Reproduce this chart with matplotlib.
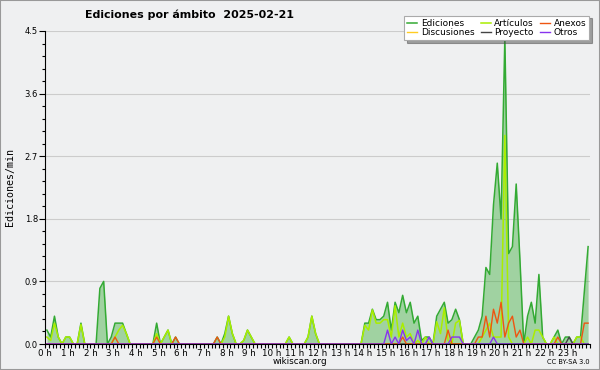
import numpy as np
import matplotlib
matplotlib.use('Agg')
import matplotlib.pyplot as plt
from matplotlib.patches import Rectangle
from matplotlib.ticker import MultipleLocator

# edits per minute, one value per 10-minute slot (144 slots)
ediciones = [
    0.2, 0.1, 0.4, 0.1, 0, 0.1, 0.1, 0, 0, 0.3, 0, 0,            # 0-1 h
    0, 0, 0.8, 0.9, 0, 0.1, 0.3, 0.3, 0.3, 0.15, 0, 0,           # 2-3 h
    0, 0, 0, 0, 0, 0.3, 0, 0.1, 0.2, 0, 0.1, 0,                  # 4-5 h
    0, 0, 0, 0, 0, 0, 0, 0, 0, 0.1, 0, 0.15,                     # 6-7 h
    0.4, 0.15, 0, 0, 0.05, 0.2, 0.1, 0, 0, 0, 0, 0,              # 8-9 h
    0, 0, 0, 0, 0.1, 0, 0, 0, 0, 0.1, 0.4, 0.15,                 # 10-11 h
    0, 0, 0, 0, 0, 0, 0, 0, 0, 0, 0, 0,                          # 12-13 h
    0.3, 0.3, 0.5, 0.35, 0.35, 0.4, 0.6, 0.2, 0.6, 0.45, 0.7, 0.45,   # 14-15 h
    0.6, 0.3, 0.4, 0.05, 0.1, 0.1, 0, 0.4, 0.5, 0.6, 0.3, 0.35,       # 16-17 h
    0.5, 0.35, 0, 0, 0, 0.1, 0.2, 0.4, 1.1, 1.0, 2.0, 2.6,            # 18-19 h
    1.8, 4.4, 1.3, 1.4, 2.3, 1.2, 0, 0.4, 0.6, 0.3, 1.0, 0.1,         # 20-21 h
    0, 0, 0.1, 0.2, 0, 0.1, 0.1, 0, 0.1, 0.1, 0.75, 1.4,              # 22-23 h
]

# other namespaces: slot -> value (slots not listed are 0)
articulos = {0: 0.1, 1: 0.05, 2: 0.3, 3: 0.1, 5: 0.1, 6: 0.1, 9: 0.28,
             18: 0.1, 19: 0.2, 20: 0.27, 21: 0.15, 29: 0.15, 31: 0.1, 32: 0.2,
             47: 0.1, 48: 0.4, 49: 0.15, 52: 0.05, 53: 0.2, 54: 0.1,
             64: 0.1, 69: 0.1, 70: 0.4, 71: 0.15,
             84: 0.27, 85: 0.2, 86: 0.49, 87: 0.3, 88: 0.3, 89: 0.35, 90: 0.35,
             91: 0.1, 92: 0.55, 93: 0.1, 94: 0.3, 95: 0.1, 96: 0.15, 98: 0.05,
             100: 0.1, 103: 0.32, 104: 0.15, 105: 0.52, 106: 0.05, 108: 0.3,
             109: 0.34, 115: 0.1, 116: 0.2, 117: 0.3, 118: 0.1, 119: 0.1,
             120: 0.1, 121: 3.0, 122: 0.1, 127: 0.1, 129: 0.2, 130: 0.2,
             131: 0.1, 134: 0.1, 140: 0.1, 141: 0.1}
anexos = {18: 0.1, 29: 0.1, 34: 0.1, 45: 0.1, 94: 0.1, 106: 0.2,
          114: 0.1, 115: 0.1, 116: 0.4, 117: 0.1, 118: 0.5, 119: 0.3,
          120: 0.6, 121: 0.1, 122: 0.3, 123: 0.4, 124: 0.1, 125: 0.2,
          135: 0.1, 142: 0.3, 143: 0.3}
discusiones = {}
proyecto = {138: 0.1}
otros = {90: 0.2, 92: 0.1, 94: 0.2, 95: 0.05, 96: 0.1, 98: 0.2, 101: 0.1,
         107: 0.1, 108: 0.1, 109: 0.1, 118: 0.1}

hour_labels = ['%d h' % h for h in range(24)]

n = len(ediciones)
x = (np.arange(n) + 0.5) / 6.0


def expand(d):
    a = np.zeros(n)
    for k, v in d.items():
        a[k] = v
    return a


bg = '#eff0f1'
fig = plt.figure(figsize=(6, 3.7), dpi=100, facecolor=bg)
ax = fig.add_axes([45 / 600, 26 / 370, 545 / 600, 313 / 370])
ax.set_facecolor(bg)

ax.fill_between(x, ediciones, color='#33aa33', alpha=0.42, lw=0)
ax.plot(x, ediciones, color='#33aa33', lw=1.1, label='Ediciones')
ax.plot(x, expand(discusiones), color='#ffcc22', lw=1, label='Discusiones')
ax.plot(x, expand(articulos), color='#aaee00', lw=1.1, label='Artículos')
ax.plot(x, expand(proyecto), color='#444444', lw=1, label='Proyecto')
ax.plot(x, expand(anexos), color='#ee5511', lw=1, label='Anexos')
ax.plot(x, expand(otros), color='#8833ee', lw=1, label='Otros')

ax.set_xlim(0, 24)
ax.set_ylim(0, 4.5)
ax.set_xticks(range(24))
ax.set_xticklabels(hour_labels, fontsize=6.3)
ax.xaxis.set_minor_locator(MultipleLocator(1 / 6))
ax.yaxis.set_major_locator(MultipleLocator(0.9))
ax.yaxis.set_minor_locator(MultipleLocator(0.18))
ax.yaxis.set_major_formatter(matplotlib.ticker.FormatStrFormatter('%.1f'))
ax.tick_params(axis='y', which='major', labelsize=6, length=4, width=0.8, pad=1)
ax.tick_params(axis='y', which='minor', length=2.5, width=0.8)
ax.tick_params(axis='x', which='both', length=3, width=0.8, pad=0.5)
for s in ['top', 'right']:
    ax.spines[s].set_visible(False)
ax.spines['left'].set_linewidth(0.8)
ax.spines['bottom'].set_linewidth(0.8)
ax.grid(axis='y', color='#cccccc', lw=0.8)
ax.set_axisbelow(True)

fig.text(10 / 600, 1 - 187 / 370, 'Ediciones/min', family='DejaVu Sans Mono',
         fontsize=7.2, rotation=90, ha='center', va='center')

fig.text(85 / 600, 1 - 15 / 370, 'Ediciones por ámbito  2025-02-21',
         fontsize=7.9, fontweight='bold', va='center', ha='left')
fig.text(300 / 600, 1 - 362 / 370, 'wikiscan.org', fontsize=6.3, ha='center', va='center')
fig.text(590 / 600, 1 - 362 / 370, 'CC BY-SA 3.0', fontsize=4.8, ha='right', va='center')

leg = ax.legend(loc='upper right', bbox_to_anchor=(594 / 600, 1 - 11 / 370),
                bbox_transform=fig.transFigure, ncol=3, fontsize=6.5,
                handlelength=1.1, handletextpad=0.4, columnspacing=0.7,
                labelspacing=0.05, borderpad=0.35, fancybox=False, shadow=True,
                framealpha=1, edgecolor='#aaaaaa')
leg.get_frame().set_linewidth(0.8)

fig.patches.append(Rectangle((0, 0), 1, 1, transform=fig.transFigure, fill=False,
                             edgecolor='#999999', lw=1.5))

fig.savefig('out.png', dpi=100, facecolor=bg)
